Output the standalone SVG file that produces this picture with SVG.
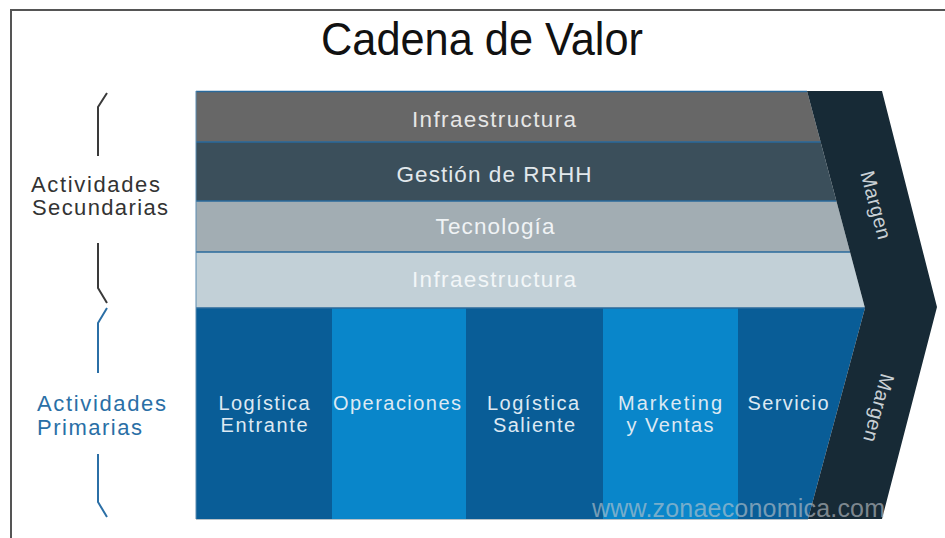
<svg xmlns="http://www.w3.org/2000/svg" width="945" height="538" viewBox="0 0 945 538">
<style>
text{font-family:"Liberation Sans",Arial,sans-serif;}
.band{font-size:22.5px;text-anchor:middle;}
.col{font-size:20px;fill:#dde9f3;text-anchor:middle;}
.sec{font-size:22px;fill:#333333;}
.pri{font-size:22px;fill:#2a6fa6;}
.mg{font-size:20px;fill:#c9d0d5;text-anchor:middle;}
.sep{stroke:#2a6a9c;stroke-width:1.5;}
</style>
<rect x="0" y="0" width="945" height="538" fill="#ffffff"/>
<g id="frame" fill="none" stroke="#555555" stroke-width="2">
<path d="M10,10 L945,10 M11,10 L11,538"/>
</g>
<g id="title"><text x="482" y="55" font-size="47" fill="#111111" text-anchor="middle" textLength="322" lengthAdjust="spacingAndGlyphs">Cadena de Valor</text></g>

<g id="secundarias">
<path d="M107,93 L98,107 L98,156 M98,243 L98,288 L107,303" fill="none" stroke="#3a3a3a" stroke-width="2"/>
<text class="sec" x="31" y="192" textLength="129" lengthAdjust="spacing">Actividades</text>
<text class="sec" x="32" y="215" textLength="136" lengthAdjust="spacing">Secundarias</text>
</g>
<g id="primarias">
<path d="M107,308 L98,323 L98,373 M98,454 L98,502 L107,517" fill="none" stroke="#2b6fa6" stroke-width="2"/>
<text class="pri" x="37" y="411" textLength="129" lengthAdjust="spacing">Actividades</text>
<text class="pri" x="37" y="435" textLength="105" lengthAdjust="spacing">Primarias</text>
</g>

<g id="infraestructura">
<polygon points="196,91 807,91 820.6,142 196,142" fill="#676767"/>
<text class="band" x="494" y="127" fill="#e6e6e6" textLength="164" lengthAdjust="spacing">Infraestructura</text>
</g>
<g id="rrhh">
<polygon points="196,142 820.6,142 836.4,201 196,201" fill="#3b4f5b"/>
<text class="band" x="494" y="182" fill="#e2e8ec" textLength="195" lengthAdjust="spacing">Gestión de RRHH</text>
</g>
<g id="tecnologia">
<polygon points="196,201 836.4,201 850,252 196,252" fill="#a2adb3"/>
<text class="band" x="495" y="234" fill="#f0f3f5" textLength="119" lengthAdjust="spacing">Tecnología</text>
</g>
<g id="infraestructura2">
<polygon points="196,252 850,252 865,308 196,308" fill="#c2d0d7"/>
<text class="band" x="494" y="287" fill="#f2f6f8" textLength="164" lengthAdjust="spacing">Infraestructura</text>
</g>

<g id="log-entrante">
<rect x="196" y="308" width="136" height="211" fill="#095d97"/>
<text class="col" x="264" y="410" textLength="91" lengthAdjust="spacing">Logística</text>
<text class="col" x="264" y="432" textLength="87" lengthAdjust="spacing">Entrante</text>
</g>
<g id="operaciones">
<rect x="332" y="308" width="134" height="211" fill="#0986ca"/>
<text class="col" x="397" y="410" textLength="128" lengthAdjust="spacing">Operaciones</text>
</g>
<g id="log-saliente">
<rect x="466" y="308" width="137" height="211" fill="#095d97"/>
<text class="col" x="533" y="410" textLength="92" lengthAdjust="spacing">Logística</text>
<text class="col" x="534" y="432" textLength="82" lengthAdjust="spacing">Saliente</text>
</g>
<g id="marketing">
<rect x="603" y="308" width="135" height="211" fill="#0986ca"/>
<text class="col" x="670" y="410" textLength="104" lengthAdjust="spacing">Marketing</text>
<text class="col" x="670" y="432" textLength="87" lengthAdjust="spacing">y Ventas</text>
</g>
<g id="servicio">
<polygon points="738,308 865,308 808,519 738,519" fill="#095d97"/>
<text class="col" x="788" y="410" textLength="81" lengthAdjust="spacing">Servicio</text>
</g>

<g id="connectors">
<path class="sep" d="M196,91.5 L807,91.5 M196,142 L820.6,142 M196,201 L836.4,201 M196,252 L850,252 M196,308 L865,308"/>
<path d="M196,91 L196,519" stroke="#5a8bb0" stroke-width="1"/>
<path d="M196,519.5 L808,519.5" stroke="#b8c2c8" stroke-width="1"/>
</g>

<g id="margen">
<polygon points="807,91 882,91 937,307 882,519 808,519 865,308" fill="#172a36"/>
<text class="mg" transform="translate(876,205) rotate(75)" y="7" textLength="70" lengthAdjust="spacing">Margen</text>
<text class="mg" transform="translate(879,408) rotate(105)" y="7" textLength="70" lengthAdjust="spacing">Margen</text>
</g>

<g id="watermark"><text x="592" y="517" font-size="25" fill="#c2c8cc" fill-opacity="0.6" textLength="293" lengthAdjust="spacing">www.zonaeconomica.com</text></g>
</svg>
